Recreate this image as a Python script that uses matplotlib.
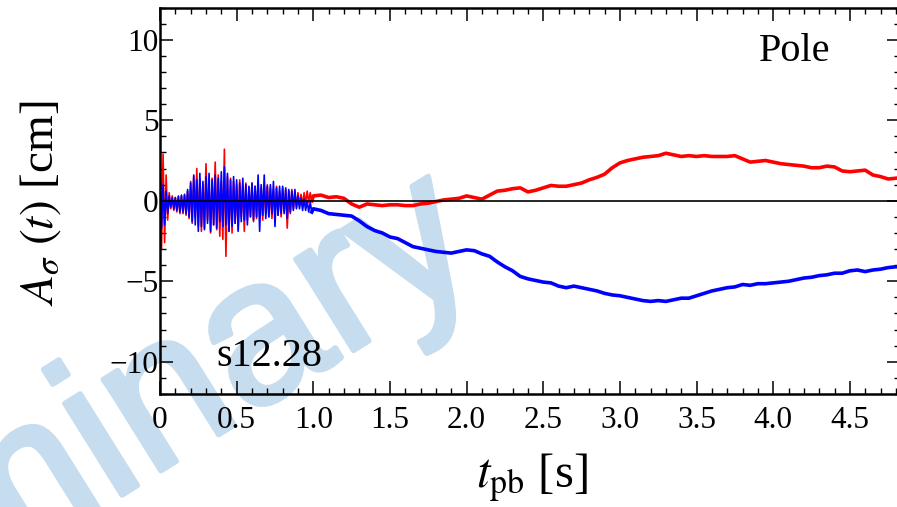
import matplotlib
matplotlib.use("Agg")
import matplotlib.pyplot as plt
import matplotlib.patheffects as pe
from matplotlib.ticker import MultipleLocator
import numpy as np

# early burst, sampled every 0.01 s from t = 0
red_burst = [3.6, -3.0, 2.9, -2.6, 1.6, -1.2, 0.5, -0.5, 0.3, -0.6,
             0.2, -0.7, 0.25, -0.8, 0.3, -0.8, 0.35, -0.9, 0.6, -1.1,
             1.2, -1.4, 1.5, -1.0, 2.0, -1.6, 1.3, -1.9, 1.0, -1.7,
             2.3, -1.2, 1.1, -2.0, 1.4, -1.5, 2.4, -1.8, 1.6, -2.2,
             1.2, -2.4, 3.2, -3.45, 1.5, -1.9, 1.4, -2.0, 1.2, -1.4,
             1.0, -1.8, 1.3, -1.0, 0.9, -1.9, 1.1, -1.2, 0.8, -1.0,
             1.1, -1.3, 0.9, -1.1, 1.2, -0.9, 0.8, -1.2, 0.9, -0.8,
             1.0, -1.0, 0.8, -1.1, 0.7, -0.8, 0.9, -0.9, 0.6, -1.0,
             0.8, -0.7, 0.7, -1.7, 0.6, -0.8, 0.7, -0.5, 0.5, -0.4,
             0.5, -0.3, 0.4, -0.3, 0.5, -0.2, 0.6, -0.1, 0.5, 0.0]
blue_burst = [1.2, -1.7, 1.0, -1.5, 0.6, -0.8, 0.3, -0.4, 0.2, -0.5,
              0.2, -0.6, 0.3, -0.7, 0.35, -0.7, 0.4, -0.8, 0.7, -1.0,
              1.1, -1.3, 1.6, -1.5, 1.3, -1.9, 1.7, -1.6, 1.2, -1.8,
              1.5, -1.4, 1.7, -1.9, 1.3, -1.5, 1.6, -1.7, 1.4, -1.3,
              1.8, -1.6, 2.1, -1.5, 1.7, -1.9, 1.3, -1.6, 1.5, -1.4,
              1.3, -1.9, 1.1, -1.3, 1.4, -1.2, 1.0, -1.5, 0.9, -1.0,
              1.1, -1.2, 0.9, -1.0, 1.6, -1.9, 1.0, -0.9, 1.6, -1.1,
              0.9, -1.0, 1.0, -0.8, 1.2, -1.6, 0.8, -0.9, 0.9, -0.8,
              0.9, -0.8, 0.8, -1.1, 0.7, -0.7, 0.6, -0.6, 0.7, -0.5,
              0.3, -0.5, 0.2, -0.6, 0.1, -0.6, 0.0, -0.7, -0.1, -0.7]

# later evolution, sampled every 0.05 s from t = 1.0
red_late = [0.3, 0.35, 0.2, 0.25, 0.15, -0.2, -0.4, -0.2, -0.25, -0.3,
            -0.25, -0.25, -0.3, -0.3, -0.2, -0.15, -0.05, 0.05, 0.1, 0.15,
            0.3, 0.2, 0.1, 0.35, 0.6, 0.65, 0.75, 0.8, 0.55, 0.65,
            0.8, 0.95, 0.9, 0.9, 1.0, 1.1, 1.3, 1.45, 1.65, 2.05,
            2.35, 2.5, 2.6, 2.7, 2.75, 2.8, 2.95, 2.85, 2.75, 2.8,
            2.75, 2.8, 2.75, 2.75, 2.75, 2.8, 2.6, 2.4, 2.45, 2.5,
            2.4, 2.3, 2.25, 2.2, 2.15, 2.05, 2.05, 2.15, 2.1, 1.85,
            1.8, 1.85, 1.9, 1.6, 1.5, 1.35, 1.4, 1.45]
blue_late = [-0.5, -0.6, -0.8, -0.85, -0.9, -0.95, -1.25, -1.6, -1.85, -2.0,
             -2.25, -2.35, -2.6, -2.85, -2.95, -3.05, -3.15, -3.2, -3.25, -3.15,
             -3.05, -3.1, -3.3, -3.45, -3.8, -4.1, -4.35, -4.7, -4.85, -4.95,
             -5.05, -5.1, -5.3, -5.4, -5.3, -5.4, -5.5, -5.6, -5.75, -5.85,
             -5.9, -6.0, -6.1, -6.2, -6.25, -6.2, -6.25, -6.15, -6.05, -6.05,
             -5.9, -5.75, -5.6, -5.5, -5.4, -5.35, -5.2, -5.25, -5.15, -5.15,
             -5.1, -5.05, -5.0, -4.9, -4.8, -4.75, -4.65, -4.6, -4.5, -4.5,
             -4.35, -4.3, -4.4, -4.3, -4.25, -4.15, -4.1, -4.1]

xtick_labels = ['0', '0.5', '1.0', '1.5', '2.0', '2.5', '3.0', '3.5', '4.0', '4.5']
ytick_vals = [-10, -5, 0, 5, 10]
ytick_labels = ['\u221210', '\u22125', '0', '5', '10']

t_burst = np.arange(len(red_burst)) * 0.01
t_late = 1.0 + np.arange(len(red_late)) * 0.05

plt.rcParams['font.family'] = ['Liberation Serif', 'DejaVu Serif']
plt.rcParams['mathtext.fontset'] = 'stix'

fig = plt.figure(figsize=(8.97, 5.07), dpi=100)
ax = fig.add_axes([160 / 897, 1 - 394 / 507, 740 / 897, 386.5 / 507])
ax.set_facecolor('none')

# watermark behind the axes
wm_color = '#c6dcef'
fig.text(0.5414, 0.4718, 'Preliminary', fontsize=147, color=wm_color,
         family='Liberation Sans', rotation=32, rotation_mode='anchor',
         ha='right', va='baseline', zorder=-1,
         path_effects=[pe.withStroke(linewidth=4, foreground=wm_color)])

ax.plot(t_burst, red_burst, color='#ff0000', lw=1.2)
ax.plot(np.r_[t_burst[-1], t_late], np.r_[red_burst[-1], red_late], color='#ff0000', lw=2.6)
ax.plot(t_burst, blue_burst, color='#0000ff', lw=1.2)
ax.plot(np.r_[t_burst[-1], t_late], np.r_[blue_burst[-1], blue_late], color='#0000ff', lw=2.6)
ax.axhline(0, color='black', lw=1.2, zorder=5)

ax.set_xlim(0, 740 / 153.3)
ax.set_ylim(-12, 12)
ax.xaxis.set_minor_locator(MultipleLocator(0.1))
ax.yaxis.set_minor_locator(MultipleLocator(1))
ax.set_xticks(np.arange(len(xtick_labels)) * 0.5)
ax.set_xticklabels(xtick_labels, family='Liberation Serif')
ax.set_yticks(ytick_vals)
ax.set_yticklabels(ytick_labels, family='Liberation Serif')

ax.tick_params(which='both', direction='in', top=True, right=True, labelsize=22.5)
ax.tick_params(which='major', length=9.5, width=1.1)
ax.tick_params(which='minor', length=4.5, width=1.0)
ax.tick_params(axis='x', pad=9)
ax.tick_params(axis='y', pad=1)
for s in ax.spines.values():
    s.set_linewidth(1.8)

ax.text(4.14, 9.25, 'Pole', fontsize=29, ha='center', va='center',
        family='Liberation Serif')
ax.text(0.37, -9.7, 's12.28', fontsize=29, ha='left', va='center',
        family='Liberation Serif')

fig.text(41 / 897, 1 - 203 / 507, r'$A_\sigma\ (t)$ [cm]', fontsize=34,
         rotation=90, ha='center', va='center')
fig.text(532 / 897, 1 - 478 / 507, r'$t_{\rm pb}$ [s]', fontsize=35,
         ha='center', va='center')

fig.savefig('out.png', dpi=100)
